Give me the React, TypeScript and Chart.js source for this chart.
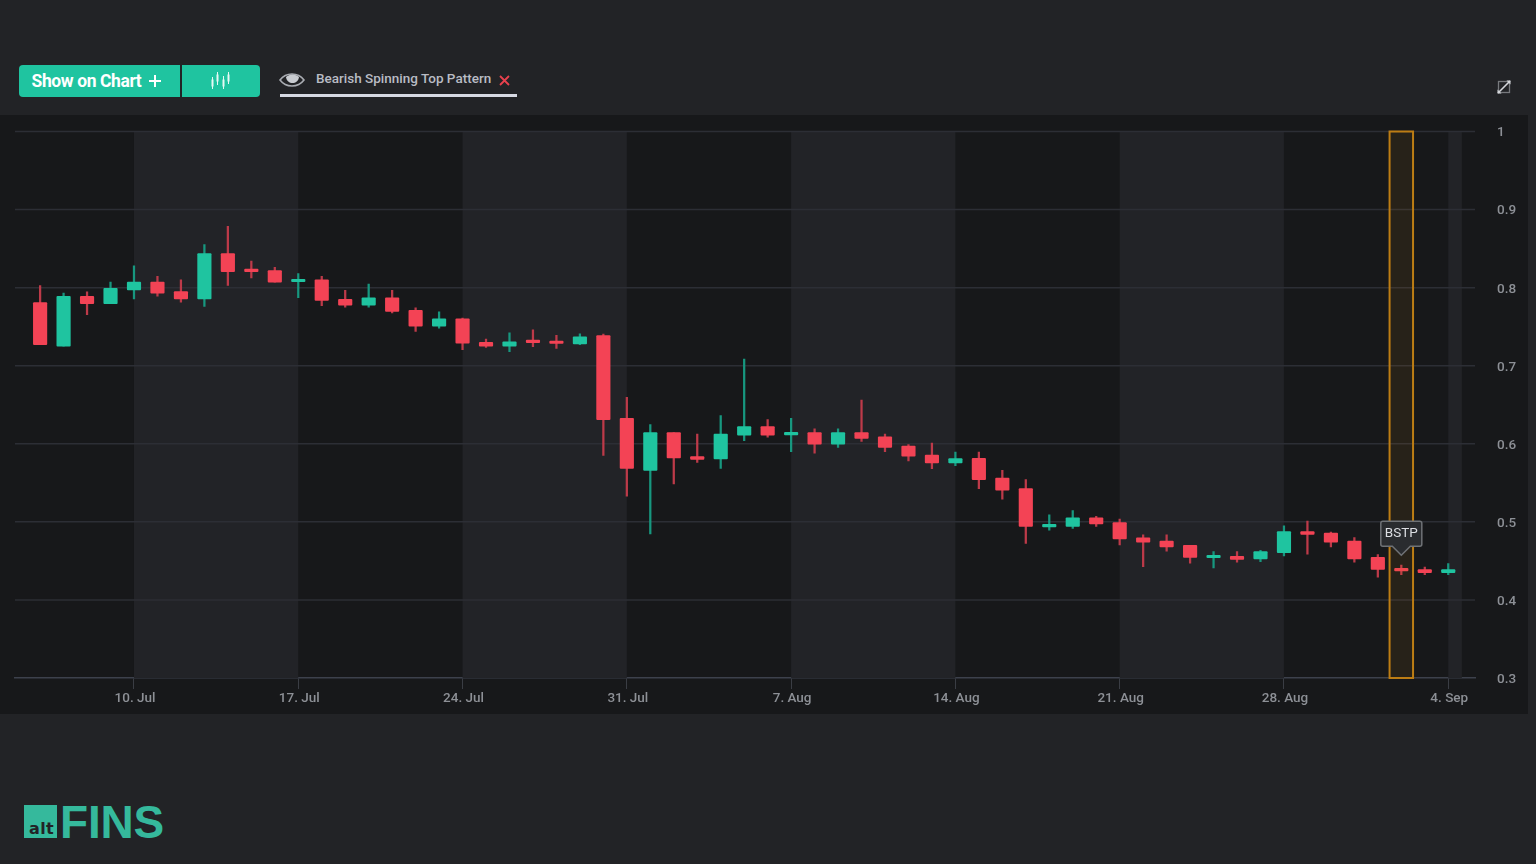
import React, { useEffect, useRef } from "react";
import { Chart, registerables } from "chart.js";

Chart.register(...registerables);

const opens = [
  0.781, 0.725, 0.789, 0.7795, 0.797, 0.807, 0.795, 0.7855, 0.8435, 0.8225, 0.822, 0.8075, 0.81, 0.785, 0.7775, 0.787,
  0.771, 0.7505, 0.76, 0.73, 0.725, 0.732, 0.7305, 0.728, 0.7385, 0.6325, 0.566, 0.6145, 0.5835, 0.5805, 0.611, 0.622,
  0.6115, 0.6145, 0.5995, 0.6145, 0.609, 0.597, 0.5855, 0.5755, 0.5815, 0.556, 0.5425, 0.4935, 0.494, 0.505, 0.499,
  0.4795, 0.4755, 0.47, 0.454, 0.456, 0.4525, 0.4605, 0.4875, 0.4855, 0.4755, 0.4545, 0.4405, 0.439, 0.435,
];
const closes = [
  0.727, 0.789, 0.7795, 0.799, 0.807, 0.793, 0.7855, 0.8435, 0.8205, 0.8205, 0.807, 0.81, 0.7835, 0.7775, 0.787, 0.7695,
  0.7505, 0.76, 0.729, 0.725, 0.7305, 0.7295, 0.7285, 0.737, 0.631, 0.5685, 0.6145, 0.582, 0.58, 0.6125, 0.622, 0.611,
  0.6145, 0.5995, 0.6145, 0.607, 0.5955, 0.584, 0.5755, 0.581, 0.554, 0.5405, 0.494, 0.4955, 0.505, 0.4975, 0.478,
  0.474, 0.468, 0.4545, 0.456, 0.452, 0.462, 0.4875, 0.484, 0.474, 0.4525, 0.439, 0.437, 0.435, 0.439,
];
const highs = [
  0.8026, 0.793, 0.7945, 0.807, 0.828, 0.8145, 0.81, 0.855, 0.8785, 0.834, 0.826, 0.818, 0.8145, 0.7965, 0.8045, 0.7965,
  0.774, 0.769, 0.761, 0.734, 0.742, 0.746, 0.739, 0.741, 0.7405, 0.6595, 0.6245, 0.6145, 0.6125, 0.636, 0.7085, 0.631,
  0.6325, 0.619, 0.619, 0.656, 0.6125, 0.599, 0.601, 0.5895, 0.5895, 0.566, 0.554, 0.509, 0.5145, 0.507, 0.5035,
  0.4835, 0.4835, 0.47, 0.462, 0.462, 0.4635, 0.495, 0.501, 0.487, 0.48, 0.458, 0.4445, 0.442, 0.4465,
];
const lows = [
  0.727, 0.725, 0.7655, 0.7795, 0.7855, 0.789, 0.7815, 0.776, 0.803, 0.8125, 0.807, 0.787, 0.777, 0.775, 0.775, 0.7675,
  0.744, 0.748, 0.7205, 0.7235, 0.718, 0.7245, 0.722, 0.727, 0.585, 0.533, 0.4845, 0.5485, 0.576, 0.5685, 0.604, 0.6085,
  0.59, 0.588, 0.5955, 0.603, 0.59, 0.578, 0.568, 0.572, 0.5425, 0.529, 0.4725, 0.4895, 0.4915, 0.494, 0.4705,
  0.4425, 0.4625, 0.447, 0.441, 0.4485, 0.449, 0.4565, 0.4585, 0.468, 0.4485, 0.429, 0.4325, 0.4325, 0.4325,
];

const tickIndexes = [4, 11, 18, 25, 32, 39, 46, 53, 60];
const tickLabels = ["10. Jul", "17. Jul", "24. Jul", "31. Jul", "7. Aug", "14. Aug", "21. Aug", "28. Aug", "4. Sep"];
const lightBands = [[4, 11], [18, 25], [32, 39], [46, 53], [60, 60.58]];
const patternIndex = 58;
const patternLabel = "BSTP";

const GREEN = "#1fc4a0";
const RED = "#f34355";
const GREEN_WICK = "#17977f";
const RED_WICK = "#bd3a49";
const FONT = "Roboto, 'Noto Sans', sans-serif";

const indexes = opens.map((_, i) => i);
const isUp = (i: number) => closes[i] >= opens[i];

const overlayPlugin = {
  id: "overlay",
  beforeDatasetsDraw(chart: any) {
    const { ctx, chartArea, scales } = chart;
    ctx.save();
    ctx.fillStyle = "#222327";
    lightBands.forEach(([a, b]) => {
      const x0 = scales.x.getPixelForValue(a);
      const x1 = scales.x.getPixelForValue(b);
      ctx.fillRect(x0, chartArea.top, x1 - x0, chartArea.bottom - chartArea.top);
    });
    ctx.strokeStyle = "#2c2e35";
    ctx.lineWidth = 1.5;
    [1, 0.9, 0.8, 0.7, 0.6, 0.5, 0.4].forEach((v) => {
      const y = scales.y.getPixelForValue(v);
      ctx.beginPath();
      ctx.moveTo(chartArea.left, y);
      ctx.lineTo(chartArea.right, y);
      ctx.stroke();
    });
    ctx.restore();
  },
  afterDatasetsDraw(chart: any) {
    const { ctx, chartArea, scales } = chart;
    const x0 = scales.x.getPixelForValue(patternIndex - 0.5);
    const x1 = scales.x.getPixelForValue(patternIndex + 0.5);
    ctx.save();
    ctx.fillStyle = "rgba(214, 140, 20, 0.09)";
    ctx.fillRect(x0, chartArea.top, x1 - x0, chartArea.bottom - chartArea.top);
    ctx.strokeStyle = "#bd7d14";
    ctx.lineWidth = 2;
    ctx.strokeRect(x0, chartArea.top, x1 - x0, chartArea.bottom - chartArea.top);

    const cx = scales.x.getPixelForValue(patternIndex);
    const tipY = scales.y.getPixelForValue(highs[patternIndex]) - 10;
    const w = 41;
    const h = 25;
    const top = tipY - 9 - h;
    ctx.beginPath();
    ctx.moveTo(cx - w / 2 + 2, top);
    ctx.lineTo(cx + w / 2 - 2, top);
    ctx.quadraticCurveTo(cx + w / 2, top, cx + w / 2, top + 2);
    ctx.lineTo(cx + w / 2, top + h - 2);
    ctx.quadraticCurveTo(cx + w / 2, top + h, cx + w / 2 - 2, top + h);
    ctx.lineTo(cx + 9, top + h);
    ctx.lineTo(cx, tipY);
    ctx.lineTo(cx - 9, top + h);
    ctx.lineTo(cx - w / 2 + 2, top + h);
    ctx.quadraticCurveTo(cx - w / 2, top + h, cx - w / 2, top + h - 2);
    ctx.lineTo(cx - w / 2, top + 2);
    ctx.quadraticCurveTo(cx - w / 2, top, cx - w / 2 + 2, top);
    ctx.closePath();
    ctx.fillStyle = "#2a2c2f";
    ctx.fill();
    ctx.strokeStyle = "#6f7276";
    ctx.lineWidth = 1.5;
    ctx.stroke();
    ctx.fillStyle = "#dcdee2";
    ctx.font = `400 13.5px ${FONT}`;
    ctx.textAlign = "center";
    ctx.textBaseline = "middle";
    ctx.fillText(patternLabel, cx, top + h / 2);
    ctx.restore();
  },
};

function Candles() {
  const ref = useRef<HTMLCanvasElement>(null);
  useEffect(() => {
    const chart = new Chart(ref.current as HTMLCanvasElement, {
      type: "bar",
      plugins: [overlayPlugin],
      data: {
        datasets: [
          {
            label: "Range",
            data: indexes.map((i) => ({ x: i, y: [lows[i], highs[i]] })) as any,
            backgroundColor: indexes.map((i) => (isUp(i) ? GREEN_WICK : RED_WICK)),
            barThickness: 1.6,
            grouped: false,
            order: 2,
          },
          {
            label: "Open-Close",
            data: indexes.map((i) => ({ x: i, y: [opens[i], closes[i]] })) as any,
            backgroundColor: indexes.map((i) => (isUp(i) ? GREEN : RED)),
            barThickness: 13.5,
            minBarLength: 2.5,
            borderRadius: 1,
            borderSkipped: false,
            grouped: false,
            order: 1,
          },
        ] as any,
      },
      options: {
        responsive: false,
        animation: false,
        devicePixelRatio: 1,
        layout: { padding: { left: 15, top: 16.5, right: 0, bottom: 0 } },
        plugins: { legend: { display: false }, tooltip: { enabled: false } },
        scales: {
          x: {
            type: "linear",
            offset: false,
            min: -1.07,
            max: 61.14,
            grid: { offset: false, drawOnChartArea: false, drawTicks: true, tickLength: 11, color: "#3a3d44" },
            border: { color: "#3d414c", width: 1.5 },
            afterBuildTicks: (s: any) => {
              s.ticks = tickIndexes.map((value) => ({ value }));
            },
            afterFit: (s: any) => {
              s.height = 36;
            },
            ticks: {
              autoSkip: false,
              maxRotation: 0,
              padding: 2,
              labelOffset: 1,
              color: "#8d9096",
              font: { family: FONT, size: 13.5, weight: 500 },
              callback: (v: any) => tickLabels[tickIndexes.indexOf(Number(v))] ?? "",
            },
          },
          y: {
            type: "linear",
            position: "right",
            min: 0.3,
            max: 1,
            grid: { display: false },
            border: { display: false },
            afterFit: (s: any) => {
              s.width = 53;
              s.paddingTop = 0;
              s.paddingBottom = 0;
            },
            ticks: {
              stepSize: 0.1,
              padding: 14,
              labelOffset: 1.5,
              color: "#8d9096",
              font: { family: FONT, size: 13.5, weight: 500 },
              callback: (v: any) => String(Number(Number(v).toFixed(1))),
            },
          },
        },
      } as any,
    });
    return () => chart.destroy();
  }, []);
  return <canvas ref={ref} width={1528} height={599} style={{ display: "block", width: 1528, height: 599 }} />;
}

const abs = (left: number, top: number, extra: React.CSSProperties = {}): React.CSSProperties => ({
  position: "absolute",
  left,
  top,
  ...extra,
});

export default function App() {
  useEffect(() => {
    document.body.style.margin = "0";
    document.body.style.background = "#222326";
  }, []);
  return (
    <div style={{ position: "relative", width: 1536, height: 864, background: "#222326", overflow: "hidden", fontFamily: FONT }}>
      <div
        style={abs(19, 65, {
          width: 161,
          height: 32,
          background: GREEN,
          borderRadius: "4px 0 0 4px",
          color: "#fff",
          fontSize: 17.5,
          fontWeight: 700,
          lineHeight: "32px",
          paddingLeft: 12.5,
          boxSizing: "border-box",
          letterSpacing: -0.4,
          whiteSpace: "nowrap",
        })}
      >
        Show on Chart
      </div>
      <svg style={abs(148, 74)} width="14" height="14" viewBox="0 0 14 14">
        <path d="M7 1 V13 M1 7 H13" stroke="#fff" strokeWidth="2" fill="none" />
      </svg>
      <div style={abs(182, 65, { width: 78, height: 32, background: GREEN, borderRadius: "0 4px 4px 0" })}>
        <svg width="78" height="32" viewBox="0 0 78 32">
          <g stroke="#e6f8f4" strokeWidth="1" fill="#e6f8f4">
            <line x1="30.5" y1="12" x2="30.5" y2="24" />
            <rect x="30" y="15" width="1" height="6" />
            <line x1="35.5" y1="7" x2="35.5" y2="20" />
            <rect x="35" y="10" width="1" height="6" />
            <line x1="41.5" y1="11" x2="41.5" y2="24" />
            <rect x="41" y="15" width="1" height="6" />
            <line x1="46.5" y1="7" x2="46.5" y2="19" />
            <rect x="46" y="10" width="1" height="6" />
          </g>
        </svg>
      </div>
      <svg style={abs(279, 71)} width="26" height="18" viewBox="0 0 26 18">
        <path d="M1 9 C7 1 19 1 25 9 C19 17 7 17 1 9 Z" fill="none" stroke="#a9acb2" strokeWidth="1.6" />
        <path d="M7 6 C10 2.5 17 2.5 20 6 C19 14 8 14 7 6 Z" fill="#c9ccd1" />
      </svg>
      <div style={abs(316, 70, { color: "#b9bcc4", fontSize: 13.5, fontWeight: 500, lineHeight: "17px", whiteSpace: "nowrap" })}>
        Bearish Spinning Top Pattern
      </div>
      <svg style={abs(499, 75)} width="11" height="11" viewBox="0 0 11 11">
        <path d="M1 1 L10 10 M10 1 L1 10" stroke="#e8414e" strokeWidth="1.8" />
      </svg>
      <div style={abs(280, 93.5, { width: 237, height: 3, background: "#d6d9e2" })} />
      <svg style={abs(1496, 79)} width="16" height="16" viewBox="0 0 16 16">
        <rect x="2.5" y="2.5" width="11" height="11" fill="none" stroke="#77797d" strokeWidth="1.3" />
        <path d="M2 14 L14 2" stroke="#d4d6da" strokeWidth="1.6" />
        <path d="M10.5 1.5 H14.5 V5.5 Z M1.5 10.5 V14.5 H5.5 Z" fill="#d4d6da" />
      </svg>

      <div style={abs(0, 115, { width: 1528, height: 599, background: "#17181a" })}>
        <Candles />
      </div>

      <div style={abs(24, 805, { width: 33, height: 33, background: "#35b99c" })} />
      <div style={abs(29, 820, { color: "#222326", fontSize: 16, fontWeight: 700, lineHeight: "17px", fontFamily: "'DejaVu Sans', sans-serif", letterSpacing: 0.4 })}>
        alt
      </div>
      <div style={abs(60, 795, { color: "#35b99c", fontSize: 46, fontWeight: 700, lineHeight: "54px", fontFamily: "'Liberation Sans', sans-serif", letterSpacing: -0.2 })}>
        FINS
      </div>
    </div>
  );
}
